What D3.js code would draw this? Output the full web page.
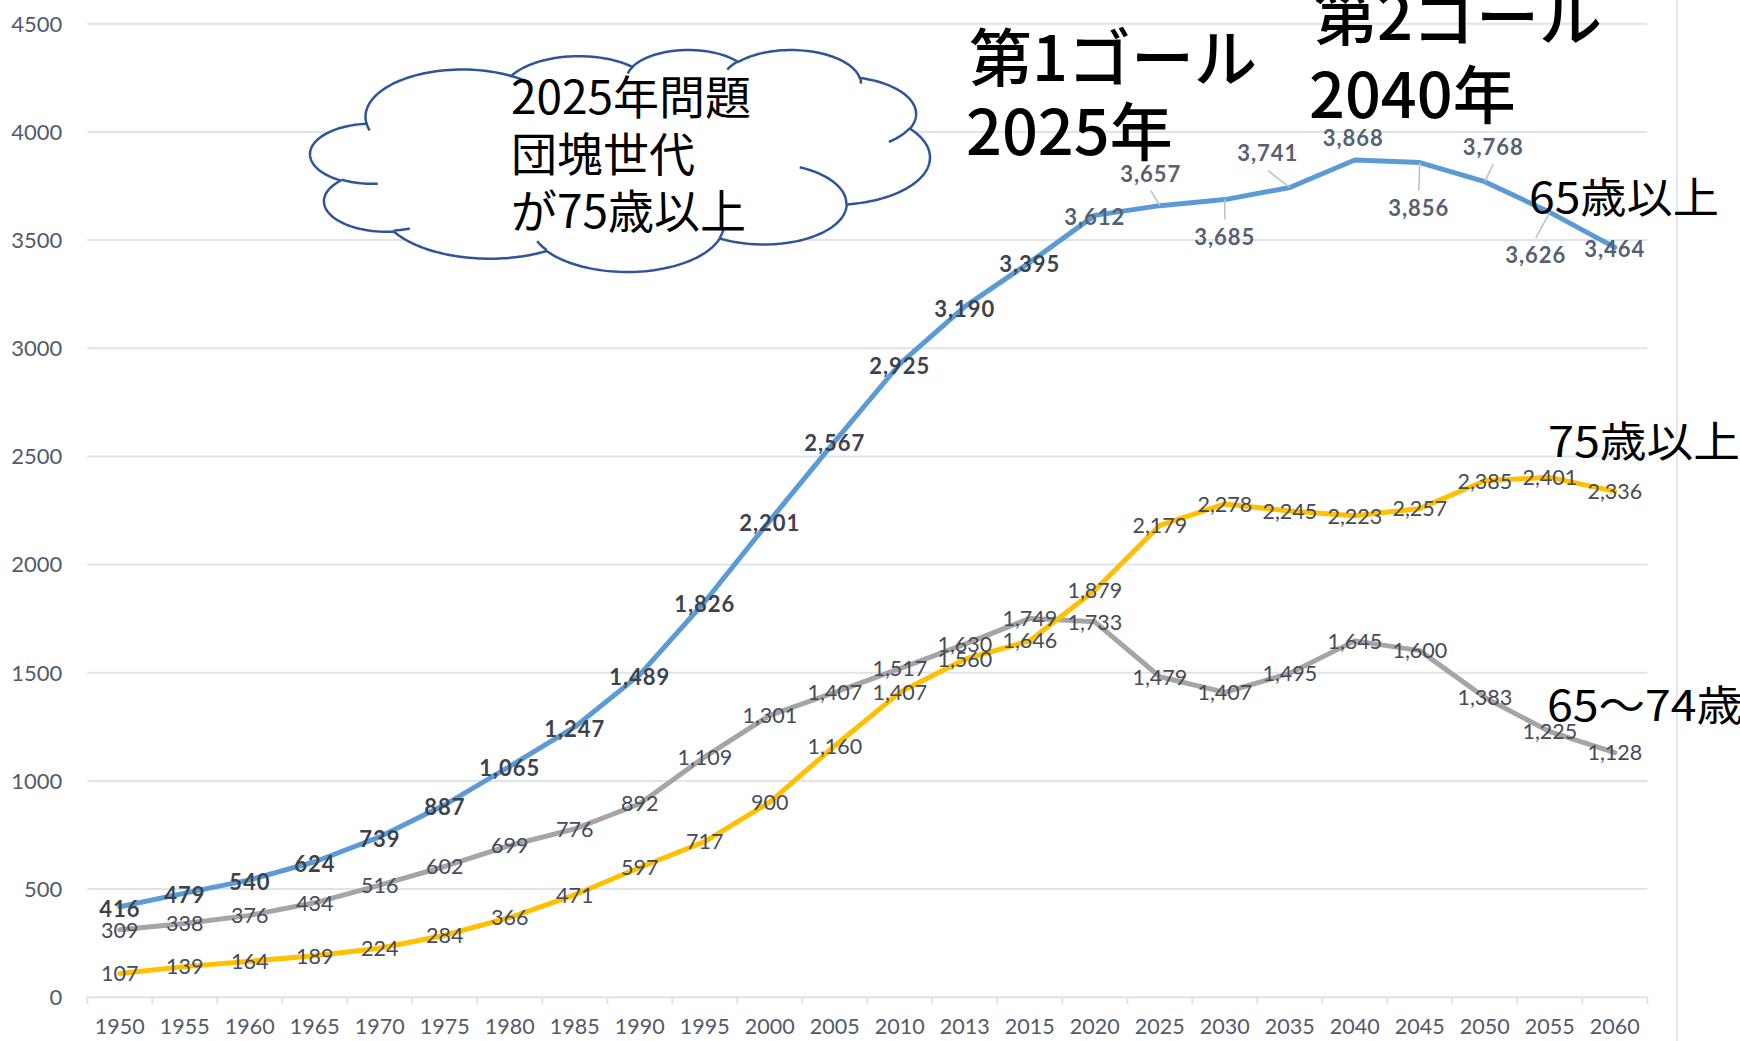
<!DOCTYPE html>
<html><head><meta charset="utf-8">
<script src="https://cdn.jsdelivr.net/npm/d3@7"></script>
<style>
html,body{margin:0;padding:0;background:#fff;}
svg{display:block;}
</style>
</head><body>
<svg id="chart" width="1740" height="1041"></svg>
<script>
// ---------------- DATA ----------------
const categories = ["1950","1955","1960","1965","1970","1975","1980","1985","1990","1995","2000","2005","2010","2013","2015","2020","2025","2030","2035","2040","2045","2050","2055","2060"];
const total65plus = [416,479,540,624,739,887,1065,1247,1489,1826,2201,2567,2925,3190,3395,3612,3657,3685,3741,3868,3856,3768,3626,3464];
const age65to74 = [309,338,376,434,516,602,699,776,892,1109,1301,1407,1517,1630,1749,1733,1479,1407,1495,1645,1600,1383,1225,1128];
const age75plus = [107,139,164,189,224,284,366,471,597,717,900,1160,1407,1560,1646,1879,2179,2278,2245,2223,2257,2385,2401,2336];
const yTickValues = [0,500,1000,1500,2000,2500,3000,3500,4000,4500];
const seriesNames = ["65歳以上","75歳以上","65～74歳"];
const cloudLines = ["2025年問題","団塊世代","が75歳以上"];
const goal1Lines = ["第1ゴール","2025年"];
const goal2Lines = ["第2ゴール","2040年"];

// ---------------- LAYOUT ----------------
const svg = d3.select("#chart");
const plot = {left: 87.3, right: 1647.3, top: 23.3, bottom: 996.7};
const x = d3.scaleBand().domain(categories).range([plot.left, plot.right]).padding(0);
const y = d3.scaleLinear().domain([0, 4500]).range([plot.bottom, plot.top]);
const cx = c => x(c) + x.bandwidth() / 2;

const gridColor = "#dfe3ea";
const labelColor = "#454b58";
const axisTextColor = "#535a69";

// right border of chart area
svg.append("line").attr("x1", 1677).attr("x2", 1677).attr("y1", 0).attr("y2", 1041)
  .attr("stroke", "#e4e7ed").attr("stroke-width", 2);

// gridlines
const grid = svg.append("g").attr("transform", `translate(${plot.left},0)`)
  .call(d3.axisLeft(y).tickValues(yTickValues).tickSize(-(plot.right - plot.left)).tickFormat(""));
grid.select(".domain").remove();
grid.selectAll("line").attr("stroke", gridColor).attr("stroke-width", 2);

// y labels
const yAx = svg.append("g").attr("transform", `translate(${plot.left},0)`)
  .call(d3.axisLeft(y).tickValues(yTickValues).tickSize(0).tickPadding(25).tickFormat(d3.format("d")));
yAx.select(".domain").remove();
yAx.selectAll("text").attr("font-family", "Lato, 'Open Sans', sans-serif").attr("font-size", 22)
  .attr("fill", axisTextColor).attr("dy", "0.36em");

// x axis labels
const xAx = svg.append("g").attr("transform", `translate(0,${plot.bottom})`)
  .call(d3.axisBottom(x).tickSize(0).tickPadding(22));
xAx.select(".domain").remove();
xAx.selectAll("text").attr("font-family", "Lato, 'Open Sans', sans-serif").attr("font-size", 21.5)
  .attr("fill", axisTextColor);
// tick marks at band edges
const edges = categories.map(c => x(c)).concat([x.range()[1]]);
svg.append("g").selectAll("line").data(edges).join("line")
  .attr("x1", d => d).attr("x2", d => d).attr("y1", plot.bottom).attr("y2", plot.bottom + 7.6)
  .attr("stroke", gridColor).attr("stroke-width", 2);

// ---------------- CLOUD (Office 'cloud' preset geometry) ----------------
const cloudMain = [[6753,9190,-11429249,7426832],[5333,7267,-8646143,5396714],[4365,5945,-8748475,5983381],
  [4857,6595,-7859164,7034504],[5333,7273,-4722533,6541615],[6775,9220,-2776035,7816140],[5785,7867,37501,6842000],
  [6752,9215,1347096,6910353],[7720,10543,3974558,4542661],[4360,5918,-16496525,8804134],[4345,5945,-14809710,9151131]];
const cloudInner = [[[4693,26177],[4345,5945,5204520,1585770]],[[6928,34899],[4360,5918,4416628,686848]],
  [[16478,39090],[6752,9215,8257449,844866]],[[28827,34751],[6752,9215,387196,959901]],
  [[34129,22954],[5785,7867,-4217541,4255042]],[[41798,15354],[5333,7273,1819082,1665090]],
  [[38324,5426],[4857,6595,-824660,891534]],[[29078,3952],[4857,6595,-8950887,1091722]],
  [[22141,4720],[4365,5945,-9809656,1061181]],[[14000,5192],[6753,9190,-4002417,739161]],
  [[4127,15789],[6753,9190,9459261,711490]]];
function arcPts(p, a, n) {
  const [wR, hR, st0, sw0] = a;
  const st = st0 / 60000 * Math.PI / 180, sw = sw0 / 60000 * Math.PI / 180;
  const t0 = Math.atan2(Math.sin(st) / hR, Math.cos(st) / wR);
  const ox = p[0] - wR * Math.cos(t0), oy = p[1] - hR * Math.sin(t0);
  const pts = [];
  for (let k = 1; k <= n; k++) {
    const th = st + sw * k / n;
    const t = Math.atan2(Math.sin(th) / hR, Math.cos(th) / wR);
    pts.push([ox + wR * Math.cos(t), oy + hR * Math.sin(t)]);
  }
  return pts;
}
let cur = [3900, 14370];
const mainPts = [cur];
cloudMain.forEach(a => { const p = arcPts(cur, a, 60); mainPts.push(...p); cur = p[p.length - 1]; });
const innerPts = cloudInner.map(([s, a]) => [s].concat(arcPts(s, a, 20)));
const ex = d3.extent(mainPts, d => d[0]), ey = d3.extent(mainPts, d => d[1]);
const cloudBox = {x0: 310, x1: 930, y0: 50, y1: 272};
const sx = d3.scaleLinear().domain(ex).range([cloudBox.x0, cloudBox.x1]);
const sy = d3.scaleLinear().domain(ey).range([cloudBox.y0, cloudBox.y1]);
const toPath = d3.line().x(d => sx(d[0])).y(d => sy(d[1]));
const cloudG = svg.append("g");
cloudG.append("path").attr("d", toPath(mainPts) + "Z").attr("fill", "#fff")
  .attr("stroke", "#2F5597").attr("stroke-width", 2.5).attr("stroke-linejoin", "round");
innerPts.forEach(pts => cloudG.append("path").attr("d", toPath(pts)).attr("fill", "none")
  .attr("stroke", "#2F5597").attr("stroke-width", 2.5));
const jp = "'Noto Sans CJK JP', 'Noto Sans CJK SC', sans-serif";
cloudG.selectAll("text").data(cloudLines).join("text")
  .attr("x", 511).attr("y", (d, i) => 114.3 + i * 56.6)
  .attr("font-family", jp).attr("font-size", 46).attr("fill", "#000").text(d => d);

// ---------------- LINES ----------------
const line = d3.line().x((d, i) => cx(categories[i])).y(d => y(d));
const series = [
  {values: age65to74, color: "#A5A5A5"},
  {values: age75plus, color: "#FFC000"},
  {values: total65plus, color: "#5B9BD5"}
];
svg.append("g").selectAll("path").data(series).join("path")
  .attr("d", d => line(d.values)).attr("fill", "none").attr("stroke", d => d.color)
  .attr("stroke-width", 5).attr("stroke-linejoin", "round").attr("stroke-linecap", "round");

// ---------------- DATA LABELS ----------------
const fmt = d3.format(",");
const labelFont = "Lato, 'Open Sans', sans-serif";
function plainLabels(values) {
  svg.append("g").selectAll("text").data(values).join("text")
    .attr("x", (d, i) => cx(categories[i])).attr("y", d => y(d))
    .attr("dy", "0.36em").attr("text-anchor", "middle")
    .attr("font-family", labelFont).attr("font-size", 21.5).attr("fill", labelColor)
    .text(d => fmt(d));
}
plainLabels(age65to74);
plainLabels(age75plus);

// label nudges for the crowded top part of the blue series (layout only)
const blueNudge = {"2025":[-9,-32], "2030":[0,37], "2035":[-22,-34], "2040":[-1.5,-22], "2045":[-1,45], "2050":[8.5,-34.5], "2055":[-14,42.5]};
const leaderFor = new Set(["2025","2030","2035","2045","2050","2055"]);
const blueG = svg.append("g");
total65plus.forEach((v, i) => {
  const c = categories[i];
  const px = cx(c), py = y(v);
  const n = blueNudge[c] || [0, 2];
  const lx = px + n[0], ly = py + n[1];
  if (leaderFor.has(c)) {
    const s = Math.sign(n[1]);
    blueG.append("line").attr("x1", px).attr("y1", py)
      .attr("x2", lx).attr("y2", ly - s * 17)
      .attr("stroke", "#b9c0cc").attr("stroke-width", 1.5);
  }
  blueG.append("text").attr("x", lx).attr("y", ly).attr("dy", "0.36em").attr("text-anchor", "middle")
    .attr("font-family", labelFont).attr("font-size", 22).attr("font-weight", 700)
    .attr("letter-spacing", 1).attr("fill", i >= 15 ? "#566072" : "#3d424c").text(fmt(v));
});

// ---------------- ANNOTATIONS ----------------
const ann = svg.append("g").attr("font-family", jp).attr("fill", "#000");
const goalG = ann.append("g").attr("font-weight", 500);
goalG.append("text").attr("x", 969).attr("y", 81).attr("font-size", 63).text(goal1Lines[0]);
goalG.append("text").attr("x", 966).attr("y", 155.4).attr("font-size", 63).text(goal1Lines[1]);
goalG.append("text").attr("x", 1314).attr("y", 39.5).attr("font-size", 63).text(goal2Lines[0]);
goalG.append("text").attr("x", 1309).attr("y", 118.3).attr("font-size", 63).text(goal2Lines[1]);
ann.append("text").attr("x", 1529).attr("y", 213).attr("font-size", 42)
  .attr("textLength", 190).attr("lengthAdjust", "spacingAndGlyphs").text(seriesNames[0]);
ann.append("text").attr("x", 1548).attr("y", 457).attr("font-size", 42)
  .attr("textLength", 192).attr("lengthAdjust", "spacingAndGlyphs").text(seriesNames[1]);
ann.append("text").attr("x", 1547).attr("y", 721).attr("font-size", 42)
  .attr("textLength", 196).attr("lengthAdjust", "spacingAndGlyphs").text(seriesNames[2]);
</script>
</body></html>
